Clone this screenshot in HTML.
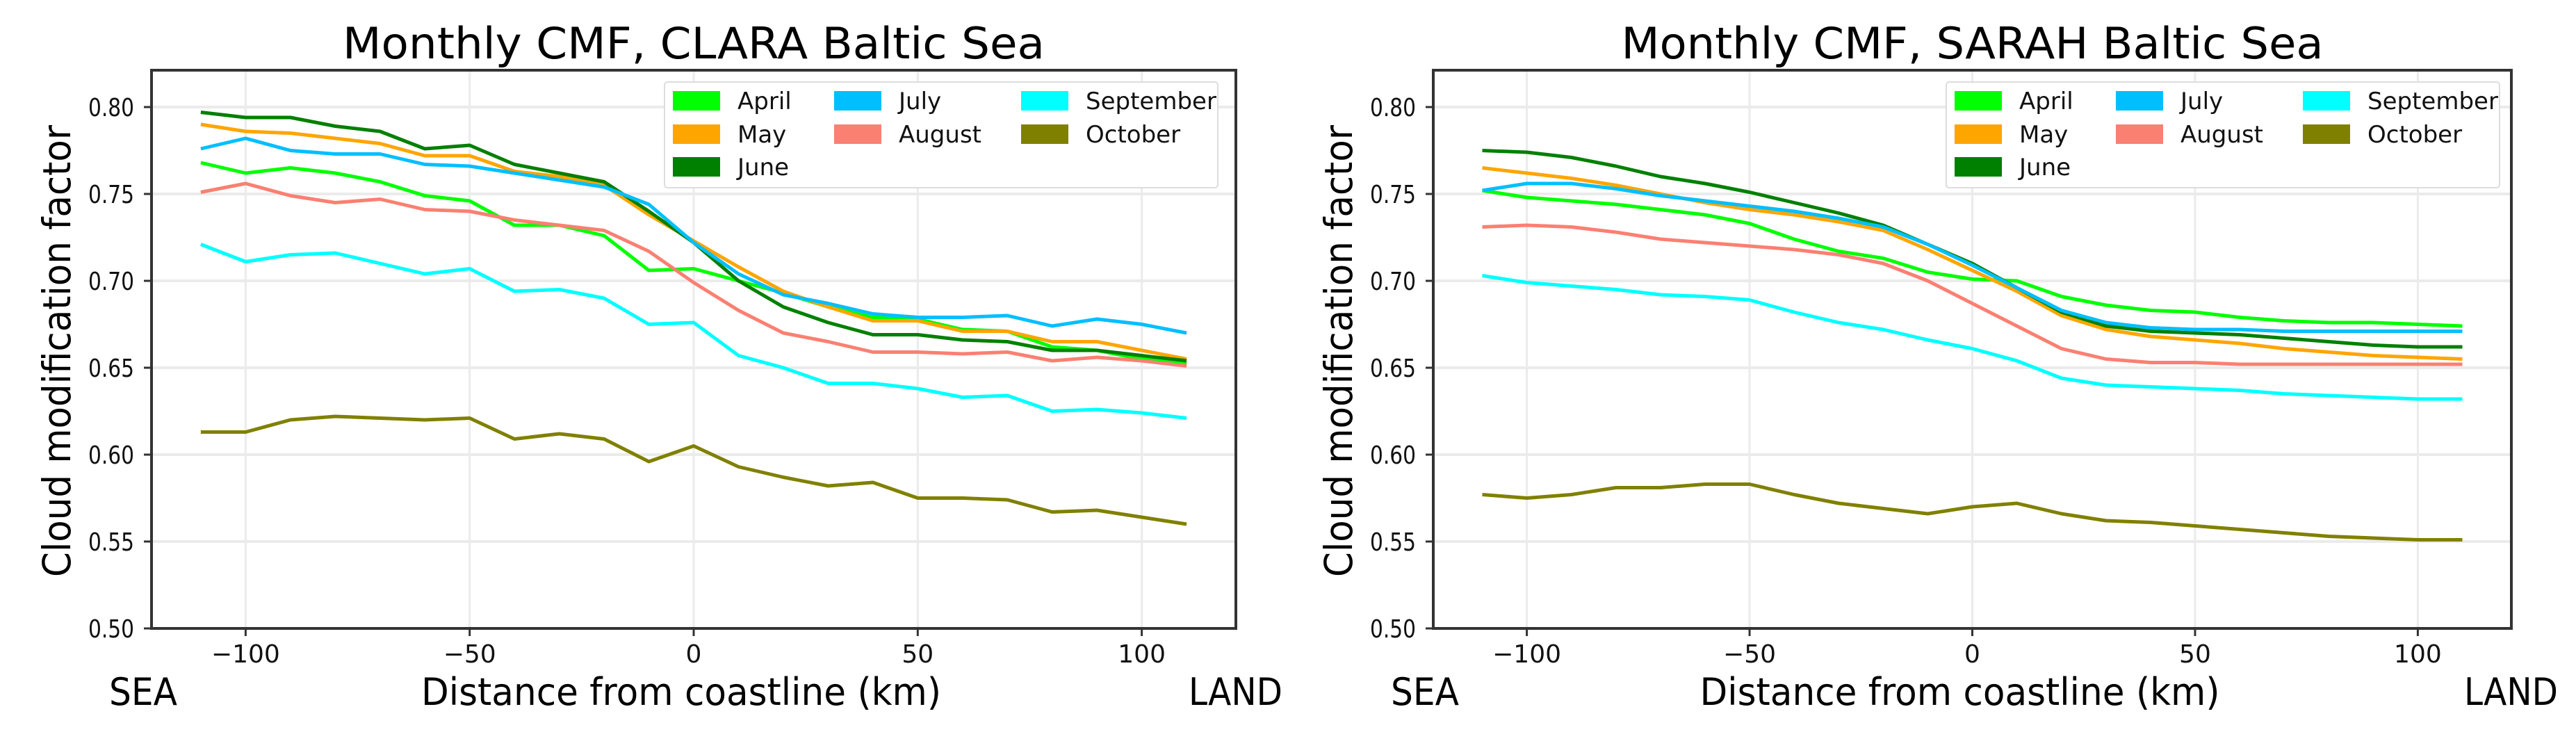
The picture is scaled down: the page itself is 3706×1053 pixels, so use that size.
<!DOCTYPE html>
<html><head><meta charset="utf-8"><style>
html,body{margin:0;padding:0;background:#fff;}
svg{display:block;font-family:"DejaVu Sans","Liberation Sans",sans-serif;}
</style></head><body>
<svg id="fig" width="3706" height="1053" viewBox="0 0 3706 1053"></svg>
<script>
const xs = [-110,-100,-90,-80,-70,-60,-50,-40,-30,-20,-10,0,10,20,30,40,50,60,70,80,90,100,110];
const months = ["April","May","June","July","August","September","October"];
const colors = ["#00ff00","#ffa500","#008000","#00bfff","#fa8072","#00ffff","#808000"];
const yTicks = [0.50,0.55,0.60,0.65,0.70,0.75,0.80];
const yTickLabels = ["0.50","0.55","0.60","0.65","0.70","0.75","0.80"];
const xTicks = [-100,-50,0,50,100];
const xTickLabels = ["\u2212100","\u221250","0","50","100"];

const claraApril = [.768,.762,.765,.762,.757,.749,.746,.732,.732,.726,.706,.707,.700,.693,.685,.679,.678,.672,.671,.662,.660,.655,.652];
const claraMay = [.790,.786,.785,.782,.779,.772,.772,.763,.760,.755,.738,.723,.708,.694,.685,.677,.677,.671,.671,.665,.665,.660,.655];
const claraJune = [.797,.794,.794,.789,.786,.776,.778,.767,.762,.757,.740,.722,.700,.685,.676,.669,.669,.666,.665,.660,.660,.657,.654];
const claraJuly = [.776,.782,.775,.773,.773,.767,.766,.762,.758,.754,.744,.722,.704,.692,.687,.681,.679,.679,.680,.674,.678,.675,.670];
const claraAugust = [.751,.756,.749,.745,.747,.741,.740,.735,.732,.729,.717,.699,.683,.670,.665,.659,.659,.658,.659,.654,.656,.654,.651];
const claraSeptember = [.721,.711,.715,.716,.710,.704,.707,.694,.695,.690,.675,.676,.657,.650,.641,.641,.638,.633,.634,.625,.626,.624,.621];
const claraOctober = [.613,.613,.620,.622,.621,.620,.621,.609,.612,.609,.596,.605,.593,.587,.582,.584,.575,.575,.574,.567,.568,.564,.560];

const sarahApril = [.752,.748,.746,.744,.741,.738,.733,.724,.717,.713,.705,.701,.700,.691,.686,.683,.682,.679,.677,.676,.676,.675,.674];
const sarahMay = [.765,.762,.759,.755,.750,.745,.741,.738,.734,.729,.718,.706,.694,.680,.672,.668,.666,.664,.661,.659,.657,.656,.655];
const sarahJune = [.775,.774,.771,.766,.760,.756,.751,.745,.739,.732,.721,.710,.696,.682,.674,.671,.670,.669,.667,.665,.663,.662,.662];
const sarahJuly = [.752,.756,.756,.753,.749,.746,.743,.740,.736,.731,.721,.709,.696,.683,.676,.673,.672,.672,.671,.671,.671,.671,.671];
const sarahAugust = [.731,.732,.731,.728,.724,.722,.720,.718,.715,.710,.700,.687,.674,.661,.655,.653,.653,.652,.652,.652,.652,.652,.652];
const sarahSeptember = [.703,.699,.697,.695,.692,.691,.689,.682,.676,.672,.666,.661,.654,.644,.640,.639,.638,.637,.635,.634,.633,.632,.632];
const sarahOctober = [.577,.575,.577,.581,.581,.583,.583,.577,.572,.569,.566,.570,.572,.566,.562,.561,.559,.557,.555,.553,.552,.551,.551];

const claraSeries = [claraApril,claraMay,claraJune,claraJuly,claraAugust,claraSeptember,claraOctober];
const sarahSeries = [sarahApril,sarahMay,sarahJune,sarahJuly,sarahAugust,sarahSeptember,sarahOctober];

const NS = "http://www.w3.org/2000/svg";
const fig = document.getElementById("fig");
function mk(tag, attrs, parent){ const e=document.createElementNS(NS,tag); for(const k in attrs) e.setAttribute(k,attrs[k]); (parent||fig).appendChild(e); return e; }

function drawPanel(L, R, title, series, key){
  const T=101, B=904, xmin=-121, xmax=121, ymin=0.5, ymax=0.8212;
  const X = v => L + (v-xmin)/(xmax-xmin)*(R-L);
  const Y = v => B - (v-ymin)/(ymax-ymin)*(B-T);
  const g = mk("g",{});
  
  
  xTicks.forEach(t=>{ const l=mk("line",{x1:X(t),x2:X(t),y1:T,y2:B,stroke:"#ebebeb","stroke-width":3},g);
      });
  yTicks.forEach(t=>{ const l=mk("line",{x1:L,x2:R,y1:Y(t),y2:Y(t),stroke:"#ebebeb","stroke-width":4},g);
      });
  series.forEach((s,i)=>{
    const d = s.map((v,j)=>(j?"L":"M")+X(xs[j]).toFixed(1)+" "+Y(v).toFixed(1)).join(" ");
    const p = mk("path",{d:d,fill:"none",stroke:colors[i],"stroke-width":5,"stroke-linejoin":"round"},g);
    
    
  });
  const fr = mk("rect",{x:L,y:T,width:R-L,height:B-T,fill:"none",stroke:"#333","stroke-width":4},g);
   
  yTicks.forEach((t,i)=>{
    mk("line",{x1:L-11,x2:L,y1:Y(t),y2:Y(t),stroke:"#333","stroke-width":3},g);
    const tx = mk("text",{x:L-25,y:Y(t)+13,"text-anchor":"end","font-size":36,fill:"#111",textLength:66,lengthAdjust:"spacingAndGlyphs"},g);
    tx.textContent = yTickLabels[i];
     
  });
  xTicks.forEach((t,i)=>{
    mk("line",{x1:X(t),x2:X(t),y1:B,y2:B+11,stroke:"#333","stroke-width":3},g);
    const tx = mk("text",{x:X(t),y:953,"text-anchor":"middle","font-size":36,fill:"#111"},g);
    tx.textContent = xTickLabels[i];
     
  });
  const tt = mk("text",{x:(L+R)/2,y:84,"text-anchor":"middle","font-size":62,fill:"#000",textLength:1010,lengthAdjust:"spacingAndGlyphs"},g);
  tt.textContent = title;  
  const xl = mk("text",{x:(L+R)/2-18,y:1014,"text-anchor":"middle","font-size":54,fill:"#000",textLength:748,lengthAdjust:"spacingAndGlyphs"},g);
  xl.textContent = "Distance from coastline (km)";  
  const sea = mk("text",{x:L-61,y:1014,"font-size":54,fill:"#000",textLength:98,lengthAdjust:"spacingAndGlyphs"},g);
  sea.textContent="SEA";  
  const land = mk("text",{x:R-68,y:1014,"font-size":54,fill:"#000",textLength:135,lengthAdjust:"spacingAndGlyphs"},g);
  land.textContent="LAND";  
  const yl = mk("text",{x:0,y:0,"text-anchor":"middle","font-size":55,fill:"#000",textLength:650,lengthAdjust:"spacingAndGlyphs",transform:`translate(${L-117},505) rotate(-90)`},g);
  yl.textContent="Cloud modification factor";  
  const lx = L+738, ly = 118;
  const lg = mk("g",{},g);
   
  mk("rect",{x:lx,y:ly,width:796,height:152,fill:"#fff",stroke:"#ddd","stroke-width":2,rx:4},lg);
  const colX=[0,232,501], rowY=[27,75,122];
  const colOf=[0,0,0,1,1,2,2], rowOf=[0,1,2,0,1,0,1];
  months.forEach((m,i)=>{
    const c=colOf[i], r=rowOf[i];
    const e = mk("g",{},lg);
     
    mk("rect",{x:lx+12+colX[c],y:ly+rowY[r]-14,width:68,height:28,fill:colors[i]},e);
    const t = mk("text",{x:lx+105+colX[c],y:ly+rowY[r]+12,"font-size":34,fill:"#111"},e);
    t.textContent=m;
  });
}
drawPanel(218,1778,"Monthly CMF, CLARA Baltic Sea",claraSeries,"clara");
drawPanel(2062,3613,"Monthly CMF, SARAH Baltic Sea",sarahSeries,"sarah");
</script>
</body></html>
